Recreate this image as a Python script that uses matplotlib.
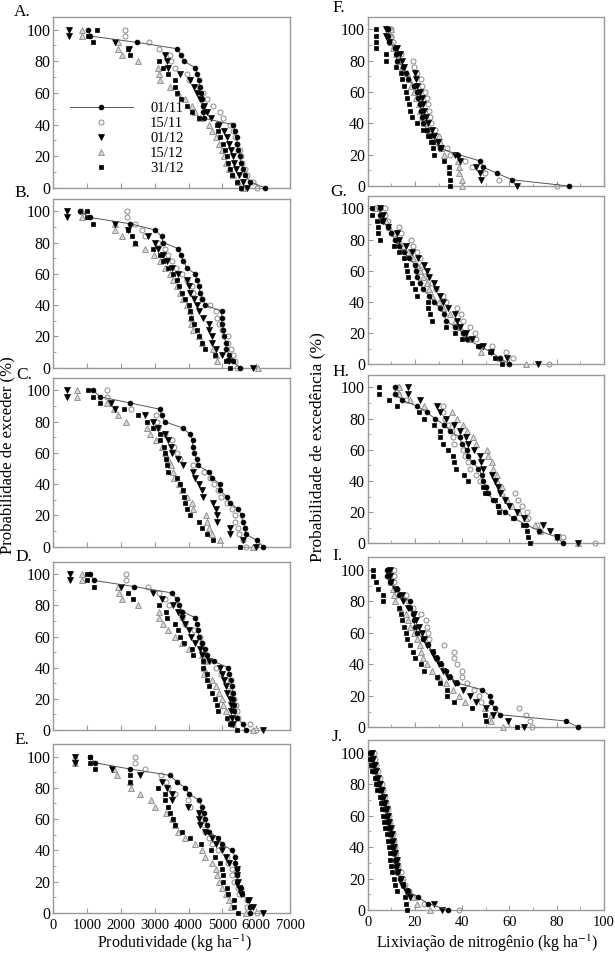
import matplotlib
matplotlib.use('Agg')
import matplotlib.pyplot as plt
from matplotlib.ticker import MultipleLocator

plt.rcParams['font.family'] = ['Liberation Serif', 'DejaVu Serif']
plt.rcParams['mathtext.fontset'] = 'stix'

# exceedance probability levels (%)
prob = [100, 96, 92, 88, 84, 80, 76, 72, 68, 64, 60, 56, 52, 48, 44, 40,
        36, 32, 28, 24, 20, 16, 12, 8, 4, 0]
dates = ['01/11', '15/11', '01/12', '15/12', '31/12']

# ---- Produtividade (kg/ha) ----
A_0111 = [1035, 1085, 2465, 3650, 3780, 3875, 4190, 4250, 4300, 4330, 4360, 4390, 4420, 4440, 4455, 5324, 5375, 5420, 5440, 5470, 5520, 5540, 5620, 5670, 5820, 6260]
A_1511 = [2120, 2120, 2840, 3135, 3450, 3480, 3600, 3945, 4000, 4320, 4420, 4550, 4730, 4930, 5030, 5225, 5305, 5375, 5420, 5520, 5540, 5590, 5670, 5720, 5915, 6015]
A_0112 = [460, 460, 1820, 2240, 3300, 3350, 3380, 3750, 4040, 4150, 4250, 4350, 4450, 4560, 4650, 4900, 5050, 5150, 5200, 5250, 5300, 5330, 5400, 5500, 5600, 5720]
A_1512 = [840, 840, 1900, 1920, 2020, 2515, 3100, 3130, 3150, 3450, 3700, 3900, 4100, 4200, 4340, 4600, 4700, 4800, 4900, 5000, 5050, 5100, 5200, 5300, 5450, 5600]
A_3112 = [1280, 1035, 1180, 2200, 2270, 3135, 3250, 3400, 3590, 3610, 3650, 3790, 3960, 4090, 4300, 4830, 4880, 4930, 5030, 5080, 5130, 5180, 5230, 5280, 5430, 5540]

B_0111 = [790, 1085, 2270, 3010, 3200, 3250, 3700, 3780, 3850, 3945, 4190, 4250, 4310, 4340, 4400, 4500, 4980, 4980, 4990, 5030, 5060, 5100, 5120, 5200, 5300, 5520]
B_1511 = [2170, 2170, 2415, 2610, 2710, 3105, 3310, 3400, 3500, 3630, 3800, 3950, 4090, 4140, 4390, 4630, 4810, 4830, 4900, 4980, 5180, 5180, 5250, 5320, 5370, 5420]
B_0112 = [395, 395, 1825, 2220, 2800, 3000, 3100, 3250, 3350, 3500, 3700, 3945, 4000, 4050, 4150, 4240, 4320, 4440, 4590, 4590, 4690, 4700, 4800, 5000, 5200, 5916]
B_1512 = [840, 840, 1825, 1825, 2020, 2420, 2700, 2980, 3150, 3300, 3450, 3550, 3650, 3750, 3850, 3950, 4050, 4070, 4080, 4130, 4300, 4400, 4730, 4800, 4830, 6060]
B_3112 = [985, 985, 1183, 2200, 2320, 2420, 2960, 3150, 3250, 3400, 3550, 3650, 3730, 3800, 3900, 4000, 4050, 4080, 4150, 4250, 4300, 4400, 4500, 4780, 5100, 5225]

C_0111 = [1183, 1380, 2270, 3155, 3200, 3300, 3825, 4045, 4120, 4120, 4170, 4240, 4270, 4600, 4700, 4930, 4930, 5130, 5230, 5470, 5570, 5600, 5670, 5700, 6020, 6210]
C_1511 = [1580, 1580, 1650, 2300, 3050, 3055, 3100, 3300, 3520, 3560, 3650, 3750, 4140, 4460, 4630, 4750, 4880, 4950, 5130, 5280, 5380, 5380, 5450, 5500, 5600, 5700]
C_0112 = [395, 395, 1700, 1825, 2700, 2960, 3100, 3300, 3400, 3480, 3520, 3700, 3845, 4120, 4200, 4320, 4400, 4420, 4730, 4810, 4830, 4830, 5230, 5230, 5600, 6000]
C_1512 = [710, 710, 1580, 1800, 1920, 2150, 2760, 2860, 3040, 3200, 3300, 3400, 3480, 3550, 3560, 3720, 3800, 3950, 4090, 4140, 4520, 4540, 4590, 4690, 4930, 5900]
C_3112 = [1035, 1183, 1380, 2100, 2510, 2770, 2960, 3150, 3150, 3280, 3300, 3340, 3360, 3400, 3650, 3750, 3850, 3880, 3900, 3950, 4030, 4300, 4390, 4540, 4730, 5520]

D_0111 = [1100, 1200, 2400, 3500, 3650, 3720, 3820, 4200, 4240, 4270, 4310, 4400, 4480, 4540, 4740, 5180, 5200, 5250, 5280, 5300, 5320, 5330, 5350, 5420, 5600, 5700]
D_1511 = [2150, 2150, 2810, 3135, 3300, 3410, 3800, 3810, 3900, 4170, 4340, 4390, 4400, 4510, 4600, 4800, 4950, 5100, 5200, 5280, 5330, 5400, 5420, 5450, 5820, 6000]
D_0112 = [493, 493, 2000, 2940, 3200, 3550, 3700, 3800, 3900, 4000, 4080, 4180, 4330, 4400, 4590, 4930, 5000, 5050, 5100, 5150, 5230, 5250, 5260, 5280, 5300, 6210]
D_1512 = [840, 840, 1900, 1950, 2020, 2500, 3135, 3140, 3240, 3380, 3600, 3800, 4000, 4400, 4450, 4460, 4470, 4700, 4800, 4900, 5000, 5030, 5100, 5200, 5300, 5900]
D_3112 = [1005, 1005, 1200, 2220, 2350, 3135, 3330, 3350, 3590, 3690, 3740, 3870, 4090, 4120, 4420, 4440, 4540, 4560, 4600, 4680, 4780, 4830, 4880, 5130, 5230, 5420]

E_0111 = [1085, 1230, 2270, 3450, 3650, 3900, 4020, 4320, 4390, 4460, 4490, 4550, 4590, 4880, 5000, 5280, 5380, 5380, 5420, 5440, 5440, 5560, 5570, 5770, 5820, 5830]
E_1511 = [2415, 2415, 2710, 3185, 3330, 3400, 3600, 3990, 4050, 4340, 4400, 4450, 4500, 4600, 4700, 4880, 5130, 5180, 5280, 5290, 5330, 5470, 5480, 5720, 5720, 6015]
E_0112 = [640, 640, 1725, 2560, 3200, 3350, 3500, 3500, 3990, 4300, 4320, 4330, 4500, 4700, 4800, 5000, 5100, 5200, 5420, 5440, 5450, 5500, 5550, 5800, 5900, 6210]
E_1512 = [640, 640, 1800, 1870, 2270, 2300, 2560, 2880, 3000, 3320, 3500, 3600, 3700, 3900, 4200, 4400, 4500, 4700, 4800, 4850, 4900, 5000, 5100, 5200, 5250, 5700]
E_3112 = [1085, 1085, 1230, 2270, 2270, 3100, 3310, 3310, 3400, 3450, 3550, 3600, 3800, 4050, 4380, 4650, 4780, 4930, 4980, 5030, 5030, 5130, 5180, 5330, 5330, 5475]

# ---- Lixiviacao de nitrogenio (kg/ha) ----
F_0111 = [8.7, 8.7, 9.2, 11.6, 11.8, 12.5, 15, 16, 17, 19.8, 20.7, 21.4, 22, 22.5, 23, 23.5, 25, 26.4, 27.8, 30.6, 38.4, 47.5, 49, 54.9, 61, 85]
F_1511 = [9.7, 10, 10.6, 11, 14, 19, 19.5, 21, 22.4, 22.8, 24.3, 25, 25.7, 26.1, 26.4, 26.6, 28.5, 29.5, 30, 33.4, 35, 41, 44, 49.6, 55.7, 80]
F_0112 = [7.8, 7.8, 9, 12.3, 13.7, 14.5, 15.5, 20, 20.5, 21, 22, 22.8, 23.5, 24, 24.5, 25.5, 27, 28, 29.8, 31, 37, 39, 46, 47.5, 48, 63.3]
F_1512 = [9.7, 9.7, 10, 10.5, 12, 13, 14.5, 16.5, 17.5, 18.5, 19.5, 20.5, 21.5, 22, 23, 24, 25.5, 30, 30.6, 31, 32.5, 38.4, 38.5, 38.6, 39.8, 40]
F_3112 = [3.4, 3.4, 3.4, 3.4, 7.8, 7.8, 12, 14, 14.5, 15.5, 16, 16.5, 17.3, 18, 18.6, 21, 23.3, 25.7, 26.8, 27.8, 28, 32.3, 34.5, 34.6, 34.8, 35]

G_0111 = [5.2, 5.2, 6.2, 8.7, 10, 11.5, 13.4, 15.4, 17.5, 20, 20.3, 21, 22.1, 23.5, 26, 28, 30.5, 32.5, 33, 37, 40.5, 42, 47, 52, 56, 60]
G_1511 = [7.3, 7.3, 8.7, 13.3, 14, 18.2, 19, 21, 22, 23, 24, 25.5, 27, 29, 32, 33, 37.7, 39.5, 40.5, 43.3, 45.4, 46, 52.5, 58.4, 61.6, 76.9]
G_0112 = [5.2, 6.5, 6.5, 8.7, 12.3, 13.2, 16, 18.7, 21.3, 24, 25, 26, 28, 29, 30.5, 32, 34, 37, 38, 39, 41.5, 44, 49, 52, 59, 72.2]
G_1512 = [3, 5.5, 7.8, 9, 11, 13.4, 15, 17, 19, 21, 22, 23.5, 25, 26, 27.4, 30, 32, 35, 37, 39, 41, 43, 48, 48, 56, 67]
G_3112 = [1.7, 1.7, 3.8, 4.2, 4.5, 5.2, 11, 13.4, 15.4, 16, 16.8, 17, 18.6, 20, 20.7, 25.4, 25.7, 26.4, 27.1, 33, 37, 40, 46.8, 51.8, 53.9, 56.7]

H_0111 = [11.6, 11.6, 14.5, 20.8, 25, 28.5, 32.5, 35, 38.9, 39.8, 42, 42.5, 44.4, 46.8, 48.2, 49, 50, 51, 53, 55, 58, 62, 67, 72.5, 80, 82.8]
H_1511 = [13, 13, 16, 31.7, 32, 32.7, 34, 35.5, 36.2, 36.5, 40.2, 41.2, 42.6, 43.3, 46, 47.5, 50, 62.3, 63.7, 65.1, 67.3, 68, 71.5, 72.9, 82.8, 96.2]
H_0112 = [17.2, 17.2, 22, 29.5, 30.6, 33, 36.5, 39, 41.5, 42.6, 44.8, 47.5, 48, 49, 52.5, 53.9, 55, 56, 58, 60, 63, 66, 74.3, 77.2, 80, 89]
H_1512 = [13.3, 13.3, 18, 24, 35.5, 37.7, 40.5, 42, 44.5, 46, 50.4, 51, 52.5, 53, 54.6, 54.7, 56.7, 57, 59, 61, 64, 67, 70.8, 73, 80, 89]
H_3112 = [4.8, 4.8, 9.2, 12.3, 21.6, 24, 28, 30.4, 30.7, 31.7, 34.1, 36.2, 36.5, 37.4, 40.8, 42.6, 49, 49.6, 53.9, 55.3, 55.7, 61.6, 65.9, 67.3, 68, 68.7]

I_0111 = [8, 8, 9.5, 12.3, 13.4, 17.9, 18, 19, 19.5, 20, 21, 23.5, 25.4, 27.6, 29.5, 31, 33, 35, 38, 48.2, 51.8, 52, 53.7, 56, 83.9, 89.1]
I_1511 = [11.3, 11.3, 11.3, 12.5, 16.2, 17, 19, 22.4, 24.7, 25.3, 25.7, 26, 32.3, 36.5, 36.7, 38, 39.8, 40, 42, 45, 47, 48, 64.2, 66.9, 68.7, 69.4]
I_0112 = [9.4, 9.4, 10, 11.4, 14.4, 15.1, 17, 19.5, 20.5, 21.5, 23, 24, 25, 27, 28.5, 30, 32, 34, 37, 40.2, 43.5, 46, 50, 53, 59.5, 66]
I_1512 = [9.4, 9.4, 10, 10.5, 11, 11.6, 13.5, 16.2, 17, 18, 19.5, 21, 22, 22.5, 23.5, 25, 27, 30, 33, 36, 38.5, 41, 49.6, 52.2, 52.2, 57.4]
I_3112 = [2.4, 2.4, 3.4, 4.5, 6.3, 6.6, 13.4, 14, 14.5, 15.2, 16.4, 16.6, 18, 19.2, 20.2, 22.4, 24, 29.2, 30.4, 33.4, 33.4, 36.5, 44, 49.5, 50.2, 63]

J_0111 = [1.5, 1.8, 2.2, 3, 4, 4.5, 5.5, 6.2, 7, 7.6, 8.2, 8.8, 9.2, 9.7, 10.2, 10.6, 11, 11.4, 12, 12.5, 13.5, 15, 17, 21.4, 25.7, 34.1]
J_1511 = [2.5, 3, 3.5, 4.5, 5.2, 6, 6.6, 7.2, 7.8, 8.5, 9, 9.6, 10, 10.5, 11, 11.6, 12, 12.5, 13, 14, 14.8, 15.7, 17.4, 19.5, 24, 38.8]
J_0112 = [2, 2.3, 3, 3.6, 4.3, 5, 6, 6.7, 7.3, 8, 8.6, 9.2, 9.8, 10.2, 10.8, 11.3, 11.7, 12.2, 12.6, 13, 14, 14.5, 16, 18, 28.2, 31.3]
J_1512 = [1.7, 2, 2.5, 3.2, 4, 4.8, 5.6, 6.4, 7, 7.7, 8.3, 9, 9.5, 10, 10.5, 11, 11.5, 12, 12.5, 13, 14.5, 15.5, 17, 19, 20.7, 26.5]
J_3112 = [1, 1, 1.5, 2, 3, 3.5, 4, 5, 5.5, 6, 6.5, 7, 7.5, 8, 8.5, 9, 9.3, 9.6, 9.9, 10.4, 11, 11.5, 12.2, 15.8, 16, 16.5]

left_panels = [('A.', [A_0111, A_1511, A_0112, A_1512, A_3112]),
               ('B.', [B_0111, B_1511, B_0112, B_1512, B_3112]),
               ('C.', [C_0111, C_1511, C_0112, C_1512, C_3112]),
               ('D.', [D_0111, D_1511, D_0112, D_1512, D_3112]),
               ('E.', [E_0111, E_1511, E_0112, E_1512, E_3112])]
right_panels = [('F.', [F_0111, F_1511, F_0112, F_1512, F_3112]),
                ('G.', [G_0111, G_1511, G_0112, G_1512, G_3112]),
                ('H.', [H_0111, H_1511, H_0112, H_1512, H_3112]),
                ('I.', [I_0111, I_1511, I_0112, I_1512, I_3112]),
                ('J.', [J_0111, J_1511, J_0112, J_1512, J_3112])]

W, H = 615, 955
fig = plt.figure(figsize=(W / 100, H / 100), dpi=100)

left_rows = [(17, 188), (198.7, 367.7), (378, 546.7), (561.7, 730), (744, 913)]
right_rows = [(16.7, 186), (196, 364.3), (375, 543.3), (557.3, 727.3), (740, 910)]
left_x = (53.3, 290)
right_x = (367.7, 604)

left_lbl = [(22, 12), (22, 193), (24, 375), (24, 557), (22, 740)]
right_lbl = [(339, 8), (339, 192), (341, 372), (337, 556), (337, 737)]

styles = [
    dict(marker='o', ms=3.4, mfc='black', mec='black', mew=0.6, ls='-', color='#555555', lw=0.7, zorder=5),
    dict(marker='o', ms=3.6, mfc='white', mec='#8a8a8a', mew=0.7, ls='none', zorder=2),
    dict(marker='v', ms=3.8, mfc='black', mec='black', mew=0.5, ls='none', zorder=4),
    dict(marker='^', ms=3.8, mfc='#d6d6d6', mec='#8a8a8a', mew=0.6, ls='none', zorder=3),
    dict(marker='s', ms=3.0, mfc='black', mec='black', mew=0.5, ls='none', zorder=4),
]

SPINE = '#9a9a9a'


def make_axes(xpx, ypx):
    x0, x1 = xpx
    t, b = ypx
    return fig.add_axes([x0 / W, 1 - b / H, (x1 - x0) / W, (b - t) / H])


def style_axes(ax, xlim, xmaj, xmin, show_x):
    ax.set_xlim(*xlim)
    ax.set_ylim(0, 108)
    ax.yaxis.set_major_locator(MultipleLocator(20))
    ax.yaxis.set_minor_locator(MultipleLocator(10))
    ax.xaxis.set_major_locator(MultipleLocator(xmaj))
    ax.xaxis.set_minor_locator(MultipleLocator(xmin))
    ax.tick_params(which='both', direction='in', colors=SPINE, top=False, right=False)
    ax.tick_params(which='major', length=3.5, width=0.8)
    ax.tick_params(which='minor', length=2, width=0.6)
    ax.tick_params(axis='y', labelcolor='black', labelsize=11.5, pad=2)
    ax.tick_params(axis='x', labelcolor='black', labelsize=10.5, pad=4)
    if not show_x:
        ax.tick_params(axis='x', labelbottom=False)
    for s in ax.spines.values():
        s.set_color(SPINE)
        s.set_linewidth(1.0)


handles = []
for i, (lbl, series) in enumerate(left_panels):
    ax = make_axes(left_x, left_rows[i])
    for d, vals, st in zip(dates, series, styles):
        ln, = ax.plot(vals, prob, label=d, clip_on=False, **st)
        if i == 0:
            handles.append(ln)
    style_axes(ax, (0, 7000), 1000, 1000, i == 4)
    fig.text(left_lbl[i][0] / W, 1 - left_lbl[i][1] / H, lbl, fontsize=12.5,
             ha='center', va='center')
    if i == 0:
        ax.legend(handles=handles, loc='upper left', bbox_to_anchor=(0.07, 0.505),
                  frameon=False, borderpad=0, borderaxespad=0, fontsize=10.5,
                  handlelength=4.3, handletextpad=1.2, labelspacing=0.12,
                  numpoints=1)

for i, (lbl, series) in enumerate(right_panels):
    ax = make_axes(right_x, right_rows[i])
    for d, vals, st in zip(dates, series, styles):
        ax.plot(vals, prob, label=d, clip_on=False, **st)
    style_axes(ax, (0, 100), 20, 10, i == 4)
    fig.text(right_lbl[i][0] / W, 1 - right_lbl[i][1] / H, lbl, fontsize=12.5,
             ha='center', va='center')

fig.text(7 / W, 1 - 455 / H, 'Probabilidade de exceder (%)', rotation=90,
         ha='center', va='center', fontsize=12)
fig.text(317 / W, 1 - 447 / H, 'Probabilidade de excedência (%)', rotation=90,
         ha='center', va='center', fontsize=12.5)
fig.text(175 / W, 1 - 954 / H, 'Produtividade (kg ha$^{-1}$)', ha='center', va='bottom',
         fontsize=11.5)
fig.text(487 / W, 1 - 954 / H, 'Lixiviação de nitrogênio (kg ha$^{-1}$)', ha='center',
         va='bottom', fontsize=11.5)

fig.savefig('out.png', dpi=100)
